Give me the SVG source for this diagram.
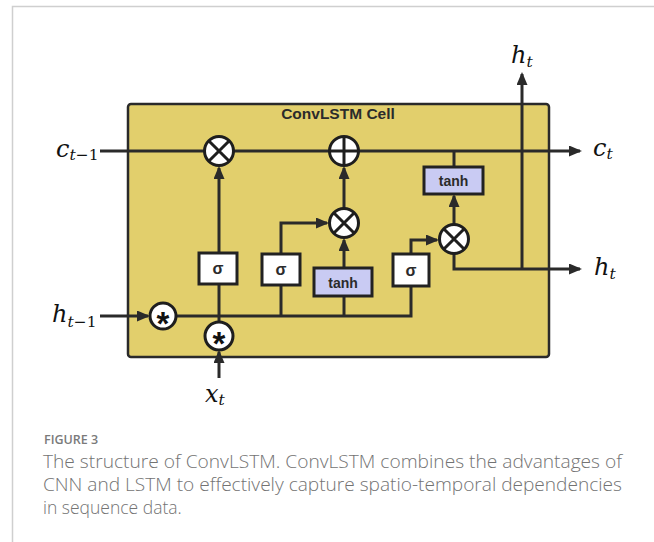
<svg xmlns="http://www.w3.org/2000/svg" width="654" height="542" viewBox="0 0 654 542">
<style>
.frame{stroke:#cfcfcf;stroke-width:1.5;fill:none}
.cell{fill:#e2cf6c;stroke:#2a2a2a;stroke-width:2.5}
.ln{fill:none;stroke:#2a2a2a;stroke-width:3;stroke-linejoin:miter}
.arr{marker-end:url(#ah)}
.op{fill:#fff;stroke:#1e1e1e;stroke-width:3}
.opx{stroke:#1e1e1e;stroke-width:3}
.box{fill:#fff;stroke:#222;stroke-width:3}
.tbox{fill:#c9cbf3;stroke:#222;stroke-width:3}
.lbl{font-family:"Liberation Sans",Arial,sans-serif;font-weight:bold;fill:#2b2b2b;text-anchor:middle}
.math{font-family:"DejaVu Serif","Liberation Serif",serif;font-style:italic;fill:#111}
.up{font-style:normal}
.cap{font-family:"Open Sans","Noto Sans",sans-serif;fill:#737373;font-weight:300}
.fig{font-family:"Open Sans","Noto Sans",sans-serif;fill:#7a7a7a;font-weight:600}
.star{font-family:"Liberation Sans",Arial,sans-serif;font-weight:bold;font-size:33px;fill:#111;text-anchor:middle}
</style>
<defs>
<marker id="ah" viewBox="0 0 13 11" markerWidth="13" markerHeight="11" refX="11" refY="5.5" orient="auto" markerUnits="userSpaceOnUse">
<path d="M0,0 L13,5.5 L0,11 z" fill="#2a2a2a"/>
</marker>
</defs>

<g id="frame">
<path class="frame" d="M12.5,542 V6.5 H654"/>
</g>

<g id="cell">
<rect class="cell" x="128" y="104" width="421" height="253" rx="3"/>
<text class="lbl" x="338" y="119" font-size="15.5">ConvLSTM Cell</text>
</g>

<g id="connectors">
<path class="ln arr" d="M100,151 H580"/>
<path class="ln arr" d="M522,269 V74"/>
<path class="ln arr" d="M454,254 V269 H580"/>
<path class="ln" d="M454,151 V167"/>
<path class="ln arr" d="M454,224 V196"/>
<path class="ln arr" d="M219,253 V168"/>
<path class="ln arr" d="M281,254 V223 H327"/>
<path class="ln arr" d="M344,268 V240"/>
<path class="ln arr" d="M344,208 V168"/>
<path class="ln arr" d="M411,254 V240 H437"/>
<path class="ln" d="M176,316 H411 V286"/>
<path class="ln" d="M219,322 V284"/>
<path class="ln" d="M281,316 V285"/>
<path class="ln" d="M344,316 V296"/>
<path class="ln arr" d="M100,316 H148"/>
<path class="ln arr" d="M219,378 V352"/>
</g>

<g id="forget-mult">
<circle class="op" cx="219" cy="151" r="14.5"/>
<path class="opx" d="M208.7,140.7 L229.3,161.3 M229.3,140.7 L208.7,161.3"/>
</g>
<g id="plus">
<circle class="op" cx="344" cy="151" r="14.5"/>
<path class="opx" d="M344,136.5 V165.5 M329.5,151 H358.5"/>
</g>
<g id="input-mult">
<circle class="op" cx="344" cy="223" r="14.5"/>
<path class="opx" d="M333.7,212.7 L354.3,233.3 M354.3,212.7 L333.7,233.3"/>
</g>
<g id="output-mult">
<circle class="op" cx="454" cy="239" r="14.5"/>
<path class="opx" d="M443.7,228.7 L464.3,249.3 M464.3,228.7 L443.7,249.3"/>
</g>
<g id="tanh-c">
<rect class="tbox" x="424" y="167" width="59" height="27"/>
<text class="lbl" x="453.5" y="186" font-size="14">tanh</text>
</g>
<g id="sigma-f">
<rect class="box" x="199" y="253" width="38" height="31"/>
<text class="lbl" x="218" y="274" font-size="16">σ</text>
</g>
<g id="sigma-i">
<rect class="box" x="262" y="254" width="38" height="31"/>
<text class="lbl" x="281" y="275" font-size="16">σ</text>
</g>
<g id="tanh-g">
<rect class="tbox" x="314" y="268" width="58" height="28"/>
<text class="lbl" x="343" y="287.5" font-size="14">tanh</text>
</g>
<g id="sigma-o">
<rect class="box" x="393" y="254" width="36" height="32"/>
<text class="lbl" x="411" y="275.5" font-size="16">σ</text>
</g>
<g id="conv-h">
<circle class="op" cx="163" cy="316" r="13"/>
<text class="star" x="163" y="335">*</text>
</g>
<g id="conv-x">
<circle class="op" cx="219" cy="336" r="14"/>
<text class="star" x="219" y="355">*</text>
</g>

<g id="labels">
<text class="math" x="56" y="157" font-size="24">c<tspan font-size="15.5" dy="3">t</tspan><tspan class="up" font-size="15.5">−1</tspan></text>
<text class="math" x="52" y="322" font-size="24">h<tspan font-size="15.5" dy="5">t</tspan><tspan class="up" font-size="15.5">−1</tspan></text>
<text class="math" x="205" y="402" font-size="24">x<tspan font-size="15.5" dy="3">t</tspan></text>
<text class="math" x="593" y="156" font-size="24">c<tspan font-size="15.5" dy="3">t</tspan></text>
<text class="math" x="594" y="275" font-size="24">h<tspan font-size="15.5" dy="4">t</tspan></text>
<text class="math" x="511" y="63" font-size="24">h<tspan font-size="15.5" dy="4">t</tspan></text>
</g>

<g id="caption">
<text class="fig" x="44" y="444" font-size="12.5">FIGURE 3</text>
<text class="cap" x="43" y="468" font-size="17.5" textLength="579" lengthAdjust="spacingAndGlyphs">The structure of ConvLSTM. ConvLSTM combines the advantages of</text>
<text class="cap" x="43" y="491" font-size="17.5" textLength="579" lengthAdjust="spacingAndGlyphs">CNN and LSTM to effectively capture spatio-temporal dependencies</text>
<text class="cap" x="43" y="514" font-size="17.5">in sequence data.</text>
</g>
</svg>
